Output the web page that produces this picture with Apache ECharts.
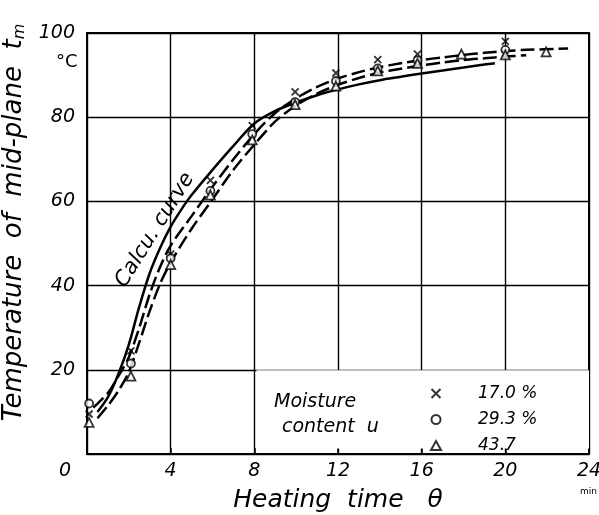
<!DOCTYPE html>
<html>
<head>
<meta charset="utf-8">
<script src="https://cdn.jsdelivr.net/npm/echarts@6/dist/echarts.min.js"></script>
<style>html,body{margin:0;padding:0;background:#fff}#c{width:599px;height:515px}</style>
</head>
<body>
<div id="c"></div>
<script>
// ---- data ----
const xTicks = [0, 4, 8, 12, 16, 20, 24];
const yTicks = [0, 20, 40, 60, 80, 100];

// calculated curve (solid)
const calcCurve = [[0.5,10],[1,13.5],[1.5,19],[2,26],[2.5,35],[3,43],[3.5,49],[4,54],[4.5,58],[5,61.5],[6,67.5],[7,73.2],[8,78.5],[9,81.5],[10,83.5],[11,85.2],[12,86.6],[13,87.8],[14,88.8],[15,89.6],[16,90.4],[17,91.1],[18,91.8],[19,92.5],[19.5,92.8]];
// experimental curves (dashed)
const expCurveUpper = [[0.3,11],[1,14.5],[1.5,18.5],[2,23],[2.5,30],[3,38],[3.5,44.5],[4,49.5],[5,56.5],[6,63.5],[7,70],[8,76],[9,81],[10,84.5],[11,87.2],[12,89.2],[13,90.7],[14,91.9],[15,92.8],[16,93.6],[17,94.2],[18,94.8],[19,95.3],[20,95.7],[21,96],[23,96.3]];
const expCurveLower = [[0.5,8.5],[1,11.5],[1.5,15],[2,19.5],[2.5,26.5],[3,34],[3.5,40.5],[4,45.5],[5,53.5],[6,60.5],[7,67.5],[8,73.5],[9,79],[10,82.8],[11,85.6],[12,87.7],[13,89.3],[14,90.6],[15,91.5],[16,92.3],[17,93],[18,93.6],[19,94],[20,94.4],[21,94.7]];

// measured points
const u170 = [[0.1,9.5],[2.1,24.5],[4,47.5],[5.9,65],[7.9,78],[9.95,86],[11.9,90.5],[13.9,93.7],[15.8,95],[20,98]];
const u293 = [[0.1,12],[2.1,21.5],[4,46.5],[5.9,62.5],[7.9,76],[9.95,83.6],[11.9,88.6],[13.9,91.6],[15.8,93.5],[20,96]];
const u437 = [[0.1,7.5],[2.1,18.5],[4,45],[5.9,61.5],[7.9,74.6],[9.95,83],[11.9,87.4],[13.9,91],[15.8,92.8],[17.9,95],[20,94.8],[21.95,95.5]];

const seriesNames = ['17.0 %', '29.3 %', '43.7'];
const legendBox = [[8.1, 1.3], [24, 19.9]];

// ---- chart ----
const FONT = 'DejaVu Sans';
const chart = echarts.init(document.getElementById('c'), null, {renderer: 'canvas'});
const lineBase = {type: 'line', smooth: 0.3, showSymbol: false, silent: true, z: 3};
const crossPath = 'path://M0,0L10,10M10,0L0,10';

chart.setOption({
  animation: false,
  backgroundColor: '#fff',
  grid: {left: 87, right: 10, top: 33, bottom: 61, show: true, borderColor: '#000', borderWidth: 2,
    containLabel: false, outerBoundsMode: 'none'},
  xAxis: {
    type: 'value', min: xTicks[0], max: xTicks[xTicks.length - 1], interval: 4,
    name: 'Heating  time   θ', nameLocation: 'middle', nameGap: 34,
    nameTextStyle: {fontFamily: FONT, fontStyle: 'italic', fontSize: 25, color: '#000'},
    axisLine: {lineStyle: {color: '#000', width: 2}},
    axisTick: {inside: true, length: 6, lineStyle: {color: '#000', width: 1.5}},
    splitLine: {show: true, lineStyle: {color: '#000', width: 1.4}},
    axisLabel: {
      margin: 8, fontFamily: FONT, fontStyle: 'italic', fontSize: 19, color: '#000',
      formatter: v => v === 0 ? '{z|0}' : String(v),
      rich: {z: {fontFamily: FONT, fontStyle: 'italic', fontSize: 19, color: '#000', padding: [0, 44, 0, 0]}}
    }
  },
  yAxis: {
    type: 'value', min: yTicks[0], max: yTicks[yTicks.length - 1], interval: 20,
    name: '{a|Temperature  of  mid-plane  t}{s|m}', nameLocation: 'middle', nameGap: 52,
    nameTextStyle: {
      padding: [0, 0, 0, 42],
      rich: {
        a: {fontFamily: FONT, fontStyle: 'italic', fontSize: 26, color: '#000'},
        s: {fontFamily: FONT, fontStyle: 'italic', fontSize: 16, color: '#000', verticalAlign: 'bottom', padding: [12, 0, 0, 0]}
      }
    },
    axisLine: {lineStyle: {color: '#000', width: 2}},
    axisTick: {show: false},
    splitLine: {show: true, lineStyle: {color: '#000', width: 1.4}},
    axisLabel: {
      margin: 12, fontFamily: FONT, fontStyle: 'italic', fontSize: 19, color: '#000',
      formatter: v => v === 0 ? '' : String(v)
    }
  },
  legend: {
    data: seriesNames, orient: 'vertical', left: 425, top: 380, z: 10,
    itemWidth: 10, itemHeight: 9, itemGap: 9, selectedMode: false,
    textStyle: {fontFamily: FONT, fontStyle: 'italic', fontSize: 17, lineHeight: 16, color: '#000', padding: [0, 0, 0, 32]}
  },
  graphic: [
    {type: 'text', z: 10, left: 56, top: 53, style: {text: '°C', fontFamily: FONT, fontSize: 18, fill: '#000'}},
    {type: 'text', z: 10, left: 580, top: 487, style: {text: 'min', fontFamily: FONT, fontSize: 9, fill: '#000'}},
    {type: 'text', z: 10, left: 274, top: 393, style: {text: 'Moisture', fontFamily: FONT, fontStyle: 'italic', fontSize: 19, fill: '#000'}},
    {type: 'text', z: 10, left: 282, top: 418, style: {text: 'content  u', fontFamily: FONT, fontStyle: 'italic', fontSize: 19, fill: '#000'}},
    {type: 'text', z: 10, x: 155, y: 230, rotation: 58 * Math.PI / 180,
      style: {text: 'Calcu. curve', fontFamily: FONT, fontStyle: 'italic', fontSize: 21, fill: '#000', align: 'center', verticalAlign: 'middle'}}
  ],
  series: [
    Object.assign({}, lineBase, {name: 'calc', data: calcCurve, lineStyle: {color: '#000', width: 2.5},
      markArea: {silent: true, itemStyle: {color: '#fff'}, data: [[{coord: legendBox[0]}, {coord: legendBox[1]}]]}}),
    Object.assign({}, lineBase, {name: 'expU', data: expCurveUpper, lineStyle: {color: '#000', width: 2.5, type: [14, 5]}}),
    Object.assign({}, lineBase, {name: 'expL', data: expCurveLower, lineStyle: {color: '#000', width: 2.5, type: [14, 5]}}),
    {type: 'scatter', name: seriesNames[0], data: u170, symbol: crossPath, symbolSize: 7, z: 5,
      itemStyle: {color: 'transparent', borderColor: '#000', borderWidth: 1.8}},
    {type: 'scatter', name: seriesNames[1], data: u293, symbol: 'circle', symbolSize: 8, z: 5,
      itemStyle: {color: '#fff', borderColor: '#000', borderWidth: 1.8}},
    {type: 'scatter', name: seriesNames[2], data: u437, symbol: 'triangle', symbolSize: 9, z: 5,
      itemStyle: {color: '#fff', borderColor: '#000', borderWidth: 1.8}}
  ]
});
</script>
</body>
</html>
